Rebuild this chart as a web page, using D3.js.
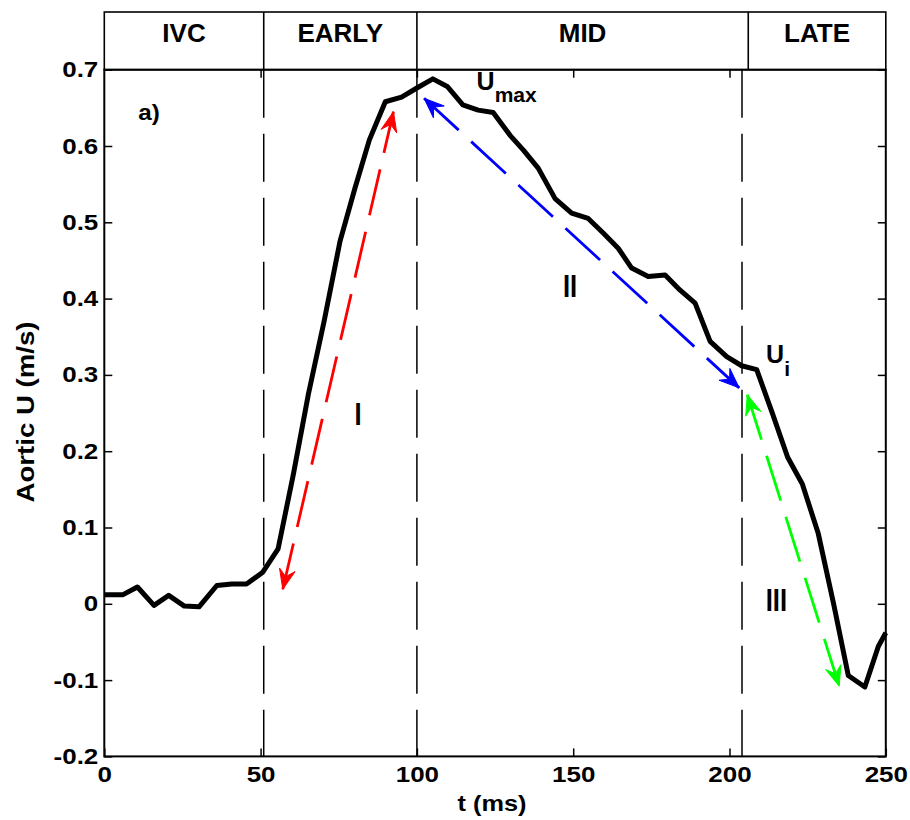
<!DOCTYPE html>
<html>
<head>
<meta charset="utf-8">
<script src="https://cdn.jsdelivr.net/npm/d3@7"></script>
<style>
  body { margin: 0; background: #fff; }
  text { font-family: "Liberation Sans", Arial, sans-serif; font-weight: bold; fill: #000; }
</style>
</head>
<body>
<div id="chart"></div>
<script>
// Aortic velocity over one ejection
const tMs = [0, 6, 10.6, 15.9, 20.6, 25.6, 30.3, 36, 40.8, 45.5,
  50.6, 55.6, 60.5, 65.3, 70.3, 75.4, 80.2, 84.8, 89.9, 95.1,
  100, 105.1, 109.7, 114.7, 119.6, 124.4, 129.8, 134, 138.8, 144.2,
  149.5, 154.8, 159.6, 164.4, 168.7, 174, 179.4, 184.2, 189, 193.8,
  199.1, 203.9, 208.7, 213.7, 218.6, 223.3, 228.4, 233.3, 238, 243.3,
  247.6, 250];
const aorticU = [0.012, 0.012, 0.022, -0.002, 0.011, -0.003, -0.004, 0.024, 0.026, 0.026,
  0.041, 0.072, 0.17, 0.275, 0.37, 0.475, 0.545, 0.608, 0.658, 0.664,
  0.676, 0.688, 0.678, 0.654, 0.647, 0.644, 0.614, 0.595, 0.571, 0.531,
  0.512, 0.505, 0.486, 0.466, 0.44, 0.429, 0.431, 0.411, 0.394, 0.344,
  0.324, 0.312, 0.307, 0.25, 0.192, 0.157, 0.092, 0, -0.094, -0.109,
  -0.056, -0.038];

const xTicks = [0, 50, 100, 150, 200, 250];
const yTicks = [-0.2, -0.1, 0, 0.1, 0.2, 0.3, 0.4, 0.5, 0.6, 0.7];

// phases shown in the strip above the plot
const phaseNames = ["IVC", "EARLY", "MID", "LATE"];
const phaseEdges = [0, 51, 100, 206, 250];
const markerTimes = [51, 100, 204];

// double arrows (t, U) and their labels
const arrowLabels = ["I", "II", "III"];
const arrowColors = ["#ff0000", "#0000ff", "#00ff00"];
const arrowFrom = [[57.1, 0.019], [102.3, 0.6625], [205.7, 0.274]];
const arrowTo = [[92.5, 0.645], [203.1, 0.283], [235.1, -0.108]];
const labelAt = [[81.2, 0.234], [149, 0.4025], [215, -0.0094]];

const width = 910, height = 820;

const svg = d3.select("#chart").append("svg")
  .attr("width", width)
  .attr("height", height)
  .style("background", "#fff");

const x = d3.scaleLinear().domain([0, 250]).range([104.3, 885.8]);
const y = d3.scaleLinear().domain([-0.2, 0.7]).range([756.4, 69.7]);

// stretch text horizontally (the source figure has wide glyphs)
function stretch(sel, k) {
  sel.each(function() {
    const len = this.getComputedTextLength();
    d3.select(this).attr("textLength", len * k).attr("lengthAdjust", "spacingAndGlyphs");
  });
}

// phase strip
const strip = svg.append("g");
strip.append("rect")
  .attr("x", x(0)).attr("y", 12)
  .attr("width", x(250) - x(0)).attr("height", y(0.7) - 12)
  .attr("fill", "none").attr("stroke", "#000").attr("stroke-width", 1.6);
strip.selectAll("line.div")
  .data(phaseEdges.slice(1, -1))
  .join("line")
  .attr("class", "div")
  .attr("x1", d => x(d)).attr("x2", d => x(d))
  .attr("y1", 12).attr("y2", y(0.7))
  .attr("stroke", "#000").attr("stroke-width", 1.6);
strip.selectAll("text")
  .data(phaseNames)
  .join("text")
  .attr("x", (d, i) => (x(phaseEdges[i]) + x(phaseEdges[i + 1])) / 2)
  .attr("y", 41.5)
  .attr("text-anchor", "middle")
  .style("font-size", "26px")
  .text(d => d);

// vertical phase markers
svg.append("g")
  .selectAll("line")
  .data(markerTimes)
  .join("line")
  .attr("x1", d => x(d)).attr("x2", d => x(d))
  .attr("y1", y(0.7)).attr("y2", y(-0.2))
  .attr("stroke", "#000").attr("stroke-width", 1.5)
  .attr("stroke-dasharray", "48,16");

// axes with inward ticks
const fontTick = "22px";
const fmtY = d => d === 0 ? "0" : d3.format(".1f")(d).replace("\u2212", "-");
const left = svg.append("g")
  .attr("transform", `translate(${x(0)},0)`)
  .call(d3.axisLeft(y).tickValues(yTicks).tickSize(-8).tickSizeOuter(0).tickPadding(6)
    .tickFormat(fmtY));
const bottom = svg.append("g")
  .attr("transform", `translate(0,${y(-0.2)})`)
  .call(d3.axisBottom(x).tickValues(xTicks).tickSize(-8).tickSizeOuter(0).tickPadding(10));
svg.append("g")
  .attr("transform", `translate(${x(250)},0)`)
  .call(d3.axisRight(y).tickValues(yTicks).tickSize(-8).tickSizeOuter(0).tickFormat(""));
svg.append("g")
  .attr("transform", `translate(0,${y(0.7)})`)
  .call(d3.axisTop(x).tickValues(xTicks.slice(1, -1)).tickSize(-8).tickSizeOuter(0).tickFormat(""));

svg.selectAll(".domain").remove();
svg.selectAll(".tick line").attr("stroke", "#000").attr("stroke-width", 1.5);
[left, bottom].forEach(g => {
  g.selectAll("text")
    .style("font-size", fontTick)
    .style("font-family", "'Liberation Sans', Arial, sans-serif")
    .style("font-weight", "bold")
    .attr("fill", "#000");
  stretch(g.selectAll("text"), 1.18);
});

// plot frame
svg.append("rect")
  .attr("x", x(0)).attr("y", y(0.7))
  .attr("width", x(250) - x(0)).attr("height", y(-0.2) - y(0.7))
  .attr("fill", "none").attr("stroke", "#000").attr("stroke-width", 2);

// velocity trace
const line = d3.line()
  .x((d, i) => x(tMs[i]))
  .y(d => y(d));

svg.append("path")
  .datum(aorticU)
  .attr("d", line)
  .attr("fill", "none")
  .attr("stroke", "#000")
  .attr("stroke-width", 5)
  .attr("stroke-linejoin", "round");

// double-headed dashed arrows
function headPath(tip, tail) {
  const dx = tip[0] - tail[0], dy = tip[1] - tail[1];
  const L = Math.hypot(dx, dy), ux = dx / L, uy = dy / L;
  const px = -uy, py = ux;
  const len = 20, half = 8, notch = 13;
  const bx = tip[0] - ux * len, by = tip[1] - uy * len;
  const nx = tip[0] - ux * notch, ny = tip[1] - uy * notch;
  return `M${tip[0]},${tip[1]}L${bx + px * half},${by + py * half}L${nx},${ny}L${bx - px * half},${by - py * half}Z`;
}

const arrows = svg.append("g");
arrowFrom.forEach((a, i) => {
  const p0 = [x(a[0]), y(a[1])];
  const p1 = [x(arrowTo[i][0]), y(arrowTo[i][1])];
  arrows.append("line")
    .attr("x1", p0[0]).attr("y1", p0[1])
    .attr("x2", p1[0]).attr("y2", p1[1])
    .attr("stroke", arrowColors[i])
    .attr("stroke-width", 2.8)
    .attr("stroke-dasharray", "47,17");
  arrows.append("path").attr("d", headPath(p0, p1)).attr("fill", arrowColors[i])
    .attr("stroke", arrowColors[i]).attr("stroke-width", 1).attr("stroke-linejoin", "round");
  arrows.append("path").attr("d", headPath(p1, p0)).attr("fill", arrowColors[i])
    .attr("stroke", arrowColors[i]).attr("stroke-width", 1).attr("stroke-linejoin", "round");
  const lab = arrows.append("text")
    .attr("x", x(labelAt[i][0]))
    .attr("y", y(labelAt[i][1]))
    .attr("text-anchor", "middle")
    .style("font-size", "32px")
    .text(arrowLabels[i]);
  stretch(lab, 0.8);
});

// annotations
const tagA = svg.append("text")
  .attr("x", x(10.9)).attr("y", y(0.634))
  .style("font-size", "22px")
  .text("a)");
stretch(tagA, 1.1);

const umax = svg.append("text")
  .attr("x", x(119.1)).attr("y", y(0.673));
umax.append("tspan").style("font-size", "25px").text("U");
umax.append("tspan").attr("dy", 12).style("font-size", "21px").text("max");

const ui = svg.append("text")
  .attr("x", x(211.7)).attr("y", y(0.315));
ui.append("tspan").style("font-size", "25px").text("U");
ui.append("tspan").attr("dy", 13).style("font-size", "21px").text("i");

// axis titles
const xt = svg.append("text")
  .attr("x", (x(0) + x(250)) / 2 - 3)
  .attr("y", 811)
  .attr("text-anchor", "middle")
  .style("font-size", "22px")
  .text("t (ms)");
stretch(xt, 1.15);

const yt = svg.append("text")
  .attr("transform", `translate(34,412) rotate(-90)`)
  .attr("text-anchor", "middle")
  .style("font-size", "23px")
  .text("Aortic U (m/s)");
stretch(yt, 1.2);
</script>
</body>
</html>
